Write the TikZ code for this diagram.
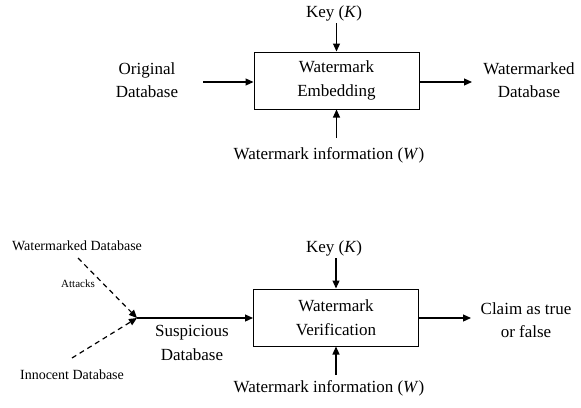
\documentclass[tikz,border=0pt]{standalone}
\usepackage{fontspec}
\setmainfont{Liberation Serif}
\usetikzlibrary{arrows.meta}
\begin{document}
\begin{tikzpicture}[x=1pt,y=-1pt,
  big/.style={font=\fontsize{17}{23.5}\selectfont,align=center,inner sep=0pt},
  mid/.style={font=\fontsize{14}{17}\selectfont,align=center,inner sep=0pt},
  small/.style={font=\fontsize{11}{13}\selectfont,align=center,inner sep=0pt},
  procbox/.style={draw,line width=1pt,minimum width=165pt,minimum height=57pt,
    font=\fontsize{17}{23.5}\selectfont,align=center,inner sep=0pt},
  arr/.style={line width=1.2pt,-{Triangle[length=8pt,width=7pt]}},
  darr/.style={line width=1.2pt,dashed,dash pattern=on 5pt off 4pt,-{Triangle[length=8pt,width=7pt]}}]
\useasboundingbox (0,0) rectangle (581,407);
% top
\node[procbox] (emb) at (336.5,80.5) {Watermark\\Embedding};
\node[big] (key1) at (334,13) {Key (\textit{K})};
\node[big] (inf1) at (329,155) {Watermark information (\textit{W})};
\node[big] (orig) at (147,80) {Original\\Database};
\node[big] (wmd) at (529,80) {Watermarked\\Database};
\coordinate (origend) at (203,82);
\coordinate (wmdend) at (472,82);
\draw[arr] (origend) -- (emb.west |- origend);
\draw[arr] (emb.east |- wmdend) -- (wmdend);
\draw[arr] (emb.north |- 0,23) -- (emb.north);
\draw[arr] (emb.south |- 0,138) -- (emb.south);
% bottom
\node[procbox] (ver) at (336,317.5) {Watermark\\Verification};
\node[big] (key2) at (334,248) {Key (\textit{K})};
\node[big] (inf2) at (329,388) {Watermark information (\textit{W})};
\node[big] (susp) at (192,343) {Suspicious\\Database};
\node[big] (claim) at (526,320) {Claim as true\\or false};
\node[mid] (wmd2) at (77,246) {Watermarked Database};
\node[mid] (inno) at (72,375) {Innocent Database};
\node[small] (att) at (78,284) {Attacks};
\coordinate (join) at (137,318);
\coordinate (claimend) at (471,318);
\coordinate (d1) at (78,258);
\coordinate (d2) at (72,358);
\draw[darr] (d1) -- (join);
\draw[darr] (d2) -- (join);
\draw[arr] (join) -- (ver.west |- join);
\draw[arr] (ver.east |- claimend) -- (claimend);
\draw[arr] (ver.north |- 0,258) -- (ver.north);
\draw[arr] (ver.south |- 0,375) -- (ver.south);
\end{tikzpicture}
\end{document}
